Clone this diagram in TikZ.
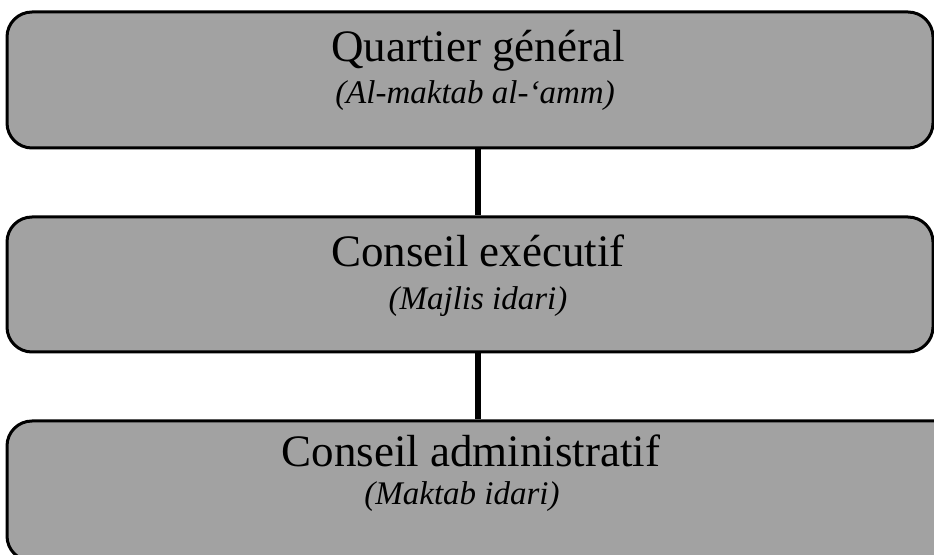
\documentclass[tikz,border=0pt]{standalone}
\usepackage{fontspec}
\setmainfont{Liberation Serif}
\usetikzlibrary{positioning}
\definecolor{trame}{RGB}{162,162,162}
\tikzstyle{cadre}=[draw,fill=trame,rectangle,rounded corners=25pt,line width=3pt,minimum width=926pt,minimum height=135pt,inner sep=0pt]
\tikzstyle{titre}=[anchor=base,inner sep=0pt,font=\fontsize{45}{45}\selectfont]
\tikzstyle{soustitre}=[anchor=base,inner sep=0pt,font=\fontsize{33}{33}\selectfont\itshape]
\tikzstyle{lien}=[line width=6pt]

\begin{document}
\begin{tikzpicture}[x=1pt,y=1pt]
    \useasboundingbox (0,0) rectangle (934,554);
    \node[cadre, minimum height=136pt] (qg) at (470,474) {};
    \node[cadre] (ce) at (470,269.5) {};
    \node[cadre, minimum width=980pt, minimum height=140pt] (ca) at (497,63) {};

    \node[titre] (qgtitre) at ([xshift=8pt,yshift=18pt]qg.center) {Quartier général};
    \node[soustitre] (qgsous) at ([xshift=5pt,yshift=-24pt]qg.center) {(Al-maktab al-‘amm)};
    \node[titre] (cetitre) at ([xshift=8pt,yshift=17.5pt]ce.center) {Conseil exécutif};
    \node[soustitre] (cesous) at ([xshift=8pt,yshift=-25pt]ce.center) {(Majlis idari)};
    \node[titre] (catitre) at ([xshift=-26pt,yshift=24pt]ca.center) {Conseil administratif};
    \node[soustitre] (casous) at ([xshift=-35pt,yshift=-14pt]ca.center) {(Maktab idari)};

    \draw[lien] ([xshift=8pt]qg.south) -- ([xshift=8pt]ce.north);
    \draw[lien] ([xshift=8pt]ce.south) -- ([xshift=-19pt]ca.north);
\end{tikzpicture}
\end{document}
